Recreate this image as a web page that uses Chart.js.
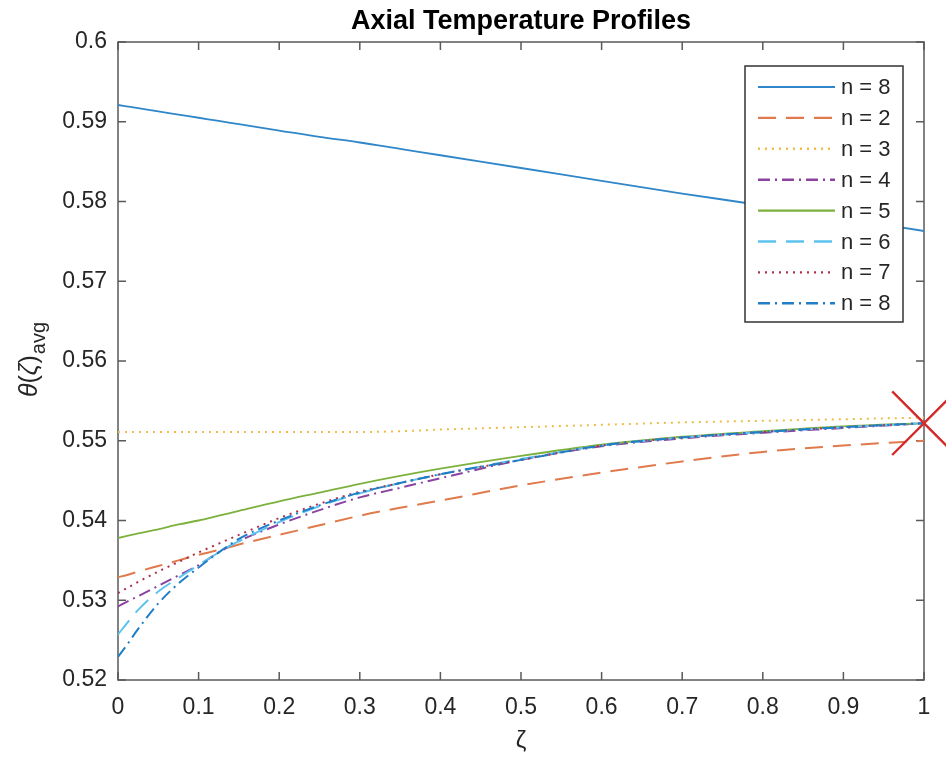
<!DOCTYPE html>
<html>
<head>
<meta charset="utf-8">
<script src="https://cdn.jsdelivr.net/npm/chart.js@4/dist/chart.umd.min.js"></script>
<style>
  html, body { margin: 0; padding: 0; background: #fff; }
  #wrap { width: 946px; height: 760px; }
</style>
</head>
<body>
<div id="wrap"><canvas id="profiles" width="946" height="760"></canvas></div>
<script>
// axial position and averaged temperature for each case
const zeta = [0, 0.0125, 0.025, 0.05, 0.075, 0.1, 0.125, 0.15, 0.2, 0.25, 0.3, 0.35, 0.4, 0.5, 0.6, 0.7, 0.8, 0.9, 1];

const thetaN8a = [0.5921, 0.5919, 0.5917, 0.5913, 0.5909, 0.5905, 0.5901, 0.5897, 0.5889, 0.5881, 0.5874, 0.5866, 0.5858, 0.5842, 0.5826, 0.5810, 0.5795, 0.5779, 0.5763];
const thetaN2  = [0.5329, 0.5332, 0.5336, 0.5343, 0.5350, 0.5357, 0.5363, 0.5370, 0.5382, 0.5394, 0.5406, 0.5416, 0.5425, 0.5444, 0.5460, 0.5474, 0.5486, 0.5494, 0.5500];
const thetaN3  = [0.5511, 0.5511, 0.5511, 0.5511, 0.5511, 0.5511, 0.5511, 0.5511, 0.5511, 0.5511, 0.5511, 0.5512, 0.5514, 0.5517, 0.5520, 0.5523, 0.5525, 0.5527, 0.5529];
const thetaN4  = [0.5292, 0.5299, 0.5305, 0.5318, 0.5331, 0.5344, 0.5360, 0.5374, 0.5395, 0.5413, 0.5429, 0.5441, 0.5453, 0.5476, 0.5493, 0.5503, 0.5510, 0.5516, 0.5522];
const thetaN5  = [0.5378, 0.5381, 0.5384, 0.5389, 0.5395, 0.5400, 0.5406, 0.5412, 0.5424, 0.5435, 0.5446, 0.5456, 0.5465, 0.5481, 0.5495, 0.5505, 0.5512, 0.5518, 0.5522];
const thetaN6  = [0.5257, 0.5273, 0.5288, 0.5311, 0.5328, 0.5344, 0.5360, 0.5374, 0.5398, 0.5418, 0.5434, 0.5447, 0.5458, 0.5477, 0.5494, 0.5504, 0.5511, 0.5517, 0.5522];
const thetaN7  = [0.5309, 0.5316, 0.5323, 0.5336, 0.5348, 0.5360, 0.5371, 0.5382, 0.5403, 0.5421, 0.5436, 0.5447, 0.5458, 0.5476, 0.5494, 0.5504, 0.5511, 0.5517, 0.5522];
const thetaN8b = [0.5229, 0.5246, 0.5264, 0.5296, 0.5321, 0.5341, 0.5360, 0.5377, 0.5400, 0.5419, 0.5435, 0.5447, 0.5458, 0.5476, 0.5494, 0.5504, 0.5511, 0.5517, 0.5522];

const caseLabels = ['n = 8', 'n = 2', 'n = 3', 'n = 4', 'n = 5', 'n = 6', 'n = 7', 'n = 8'];

// outlet value marked with the big cross
const outletZeta = 1;
const outletTheta = 0.5522;

const xTicks = [0, 0.1, 0.2, 0.3, 0.4, 0.5, 0.6, 0.7, 0.8, 0.9, 1];
const yTicks = [0.52, 0.53, 0.54, 0.55, 0.56, 0.57, 0.58, 0.59, 0.6];

const series = [thetaN8a, thetaN2, thetaN3, thetaN4, thetaN5, thetaN6, thetaN7, thetaN8b];
const styles = [
    { color: '#2f86c9', dash: [] },
    { color: '#e07a4c', dash: [18, 10] },
    { color: '#eebc4a', dash: [2, 5] },
    { color: '#8a44a0', dash: [12, 5, 2, 5] },
    { color: '#7cb13e', dash: [] },
    { color: '#5cc3ef', dash: [18, 10] },
    { color: '#b0304a', dash: [2, 5] },
    { color: '#1f7ec6', dash: [12, 5, 2, 5] }
];

const FONT = '"Liberation Sans", Arial, sans-serif';
const INK = '#262626';

const datasets = series.map((vals, i) => ({
    label: caseLabels[i],
    data: zeta.map((z, k) => ({ x: z, y: vals[k] })),
    borderColor: styles[i].color,
    borderDash: styles[i].dash,
    borderWidth: styles[i].dash.length ? 2 : 1.8,
    pointRadius: 0,
    cubicInterpolationMode: 'monotone',
    fill: false,
    order: series.length - i
}));

datasets.push({
    label: 'outlet',
    data: [{ x: outletZeta, y: outletTheta }],
    showLine: false,
    pointStyle: 'crossRot',
    pointRadius: 45,
    borderColor: '#d42a2a',
    borderWidth: 2.4,
    clip: false,
    order: -1
});

// MATLAB-like box, inward ticks, legend, title and y label
const frame = {
    id: 'frame',
    beforeDatasetsDraw(chart) {
        const { ctx, chartArea: a, scales: { x, y } } = chart;
        ctx.save();
        ctx.strokeStyle = '#5a5a5a';
        ctx.lineWidth = 1.5;
        ctx.strokeRect(a.left, a.top, a.right - a.left, a.bottom - a.top);
        ctx.beginPath();
        const t = 8;
        xTicks.forEach(v => {
            const px = x.getPixelForValue(v);
            ctx.moveTo(px, a.bottom); ctx.lineTo(px, a.bottom - t);
            ctx.moveTo(px, a.top); ctx.lineTo(px, a.top + t);
        });
        yTicks.forEach(v => {
            const py = y.getPixelForValue(v);
            ctx.moveTo(a.left, py); ctx.lineTo(a.left + t, py);
            ctx.moveTo(a.right, py); ctx.lineTo(a.right - t, py);
        });
        ctx.stroke();
        ctx.restore();
    },
    afterDatasetsDraw(chart) {
        const { ctx, chartArea: a } = chart;
        ctx.save();

        // title
        ctx.fillStyle = '#000';
        ctx.font = 'bold 27px ' + FONT;
        ctx.textAlign = 'center';
        ctx.textBaseline = 'middle';
        ctx.fillText('Axial Temperature Profiles', (a.left + a.right) / 2, 22);

        // legend
        const lx = 745, ly = 66, lw = 158, lh = 256, row = 30.9;
        ctx.fillStyle = '#fff';
        ctx.fillRect(lx, ly, lw, lh);
        ctx.strokeStyle = '#333';
        ctx.lineWidth = 1.5;
        ctx.strokeRect(lx, ly, lw, lh);
        ctx.font = '22px ' + FONT;
        ctx.textAlign = 'left';
        ctx.textBaseline = 'middle';
        chart.data.datasets.slice(0, series.length).forEach((ds, i) => {
            const cy = ly + 21 + i * row;
            ctx.strokeStyle = ds.borderColor;
            ctx.lineWidth = ds.borderWidth + 0.4;
            ctx.setLineDash(ds.borderDash);
            ctx.beginPath();
            ctx.moveTo(758, cy);
            ctx.lineTo(835, cy);
            ctx.stroke();
            ctx.setLineDash([]);
            ctx.fillStyle = INK;
            ctx.fillText(ds.label, 841, cy + 1);
        });

        // y axis label θ(ζ) with avg subscript
        ctx.translate(37, 360);
        ctx.rotate(-Math.PI / 2);
        ctx.fillStyle = INK;
        ctx.textBaseline = 'alphabetic';
        const parts = [
            { s: 'θ', f: 'italic 25px ' + FONT },
            { s: '(', f: '25px ' + FONT },
            { s: 'ζ', f: 'italic 25px ' + FONT },
            { s: ')', f: '25px ' + FONT }
        ];
        let w = 0;
        parts.forEach(p => { ctx.font = p.f; w += ctx.measureText(p.s).width; });
        ctx.font = '20px ' + FONT;
        const subW = ctx.measureText('avg').width;
        let cx = -(w + subW) / 2;
        parts.forEach(p => { ctx.font = p.f; ctx.fillText(p.s, cx, 0); cx += ctx.measureText(p.s).width; });
        ctx.font = '20px ' + FONT;
        ctx.fillText('avg', cx + 1, 8);

        ctx.restore();
    }
};

new Chart(document.getElementById('profiles'), {
    type: 'line',
    data: { datasets },
    options: {
        responsive: false,
        animation: false,
        layout: { autoPadding: false, padding: { top: 42, right: 22, bottom: 0, left: 0 } },
        plugins: { legend: { display: false }, tooltip: { enabled: false }, title: { display: false } },
        scales: {
            x: {
                type: 'linear',
                min: 0, max: 1,
                afterBuildTicks: s => { s.ticks = xTicks.map(v => ({ value: v })); },
                afterFit: s => { s.height = 80; },
                grid: { display: false, drawTicks: false },
                border: { display: false },
                ticks: {
                    autoSkip: false, maxRotation: 0, padding: 14,
                    color: INK, font: { size: 23, family: FONT },
                    callback: v => String(+v.toFixed(1))
                },
                title: {
                    display: true, text: 'ζ', color: INK,
                    font: { size: 24, family: FONT },
                    padding: { top: 0, bottom: 4 }
                }
            },
            y: {
                min: 0.52, max: 0.6,
                afterBuildTicks: s => { s.ticks = yTicks.map(v => ({ value: v })); },
                afterFit: s => { s.width = 118; },
                grid: { display: false, drawTicks: false },
                border: { display: false },
                ticks: {
                    padding: 11, color: INK, font: { size: 23, family: FONT },
                    callback: v => String(+v.toFixed(2))
                }
            }
        }
    },
    plugins: [frame]
});
</script>
</body>
</html>
